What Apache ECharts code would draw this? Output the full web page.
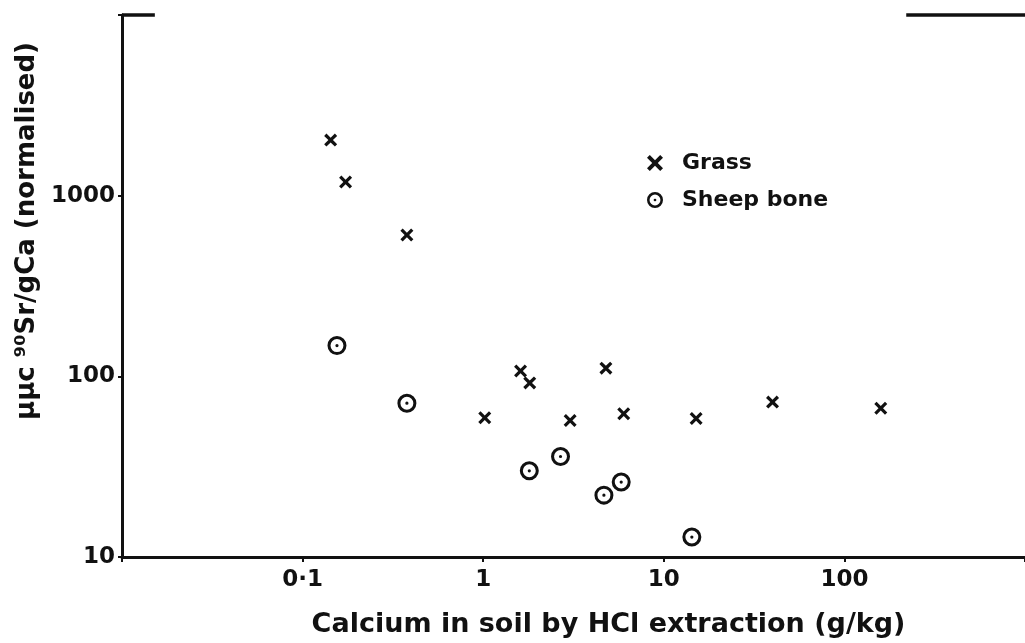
<!DOCTYPE html>
<html>
<head>
<meta charset="utf-8">
<script src="https://cdn.jsdelivr.net/npm/echarts@6/dist/echarts.min.js"></script>
<style>
  html, body { margin: 0; padding: 0; background: #fff; }
  #chart { width: 1025px; height: 643px; }
</style>
</head>
<body>
<div id="chart"></div>
<script>
// values (log-log)
const grassX = [0.143, 0.173, 0.378, 1.61, 1.81, 4.78, 1.02, 3.03, 6.0, 15.1, 40, 159];
const grassY = [2030, 1190, 605, 107, 92, 111, 59, 57, 62, 58.5, 72, 66.5];
const boneX = [0.155, 0.378, 1.80, 2.68, 4.66, 5.81, 14.3];
const boneY = [148, 71, 30, 36, 22, 26, 12.9];

const xLabels = { 0.1: '0·1', 1: '1', 10: '10', 100: '100' };
const yLabels = { 10: '10', 100: '100', 1000: '1000' };

// frame stubs along the top edge (data coords)
const topStubs = [[0.01, 0.0152], [220, 1000]];

const INK = '#111';
const FONT = 'DejaVu Sans';

const crossPath = 'path://M3.5 0 L10 6.5 L16.5 0 L20 3.5 L13.5 10 L20 16.5 L16.5 20 L10 13.5 L3.5 20 L0 16.5 L6.5 10 L0 3.5 Z';
const ringPath = 'path://M10 0 A10 10 0 1 1 10 20 A10 10 0 1 1 10 0 Z M10 3.2 A6.8 6.8 0 1 0 10 16.8 A6.8 6.8 0 1 0 10 3.2 Z M10 8.3 A1.7 1.7 0 1 1 10 11.7 A1.7 1.7 0 1 1 10 8.3 Z';

function pairs(xs, ys) {
    return xs.map((x, i) => [x, ys[i]]);
}

function labelFor(map, v) {
    const key = Object.keys(map).find(k => Math.abs(Math.log10(+k) - Math.log10(v)) < 0.01);
    return key ? map[key] : '';
}

const chart = echarts.init(document.getElementById('chart'));

chart.setOption({
    backgroundColor: '#fff',
    animation: false,
    textStyle: { fontFamily: FONT, color: INK },
    grid: { left: 122, right: 0, top: 15, bottom: 86, outerBoundsMode: 'none' },
    legend: {
        orient: 'vertical',
        left: 642,
        top: 147,
        itemWidth: 16,
        itemHeight: 16,
        itemGap: 15,
        inactiveColor: INK,
        itemStyle: { opacity: 1 },
        textStyle: { fontFamily: FONT, fontWeight: 'bold', fontSize: 22, color: INK, padding: [0, 0, 0, 14] },
        data: [
            { name: 'Grass', icon: crossPath },
            { name: 'Sheep bone', icon: ringPath }
        ]
    },
    xAxis: {
        type: 'log',
        logBase: 10,
        min: 0.01,
        max: 1000,
        name: 'Calcium in soil by HCl extraction (g/kg)',
        nameLocation: 'middle',
        nameGap: 54,
        nameTextStyle: { fontFamily: FONT, fontWeight: 'bold', fontSize: 27, color: INK, padding: [0, 0, 0, 70] },
        axisLine: { lineStyle: { color: INK, width: 3 } },
        axisTick: { inside: false, length: 5, lineStyle: { color: INK, width: 2 } },
        axisLabel: {
            margin: 12,
            fontSize: 23,
            fontWeight: 'bold',
            color: INK,
            formatter: v => labelFor(xLabels, v)
        },
        splitLine: { show: false },
        minorTick: { show: false }
    },
    yAxis: {
        type: 'log',
        logBase: 10,
        min: 10,
        max: 10000,
        name: 'μμc ⁹⁰Sr/gCa (normalised)',
        nameLocation: 'middle',
        nameGap: 81,
        nameRotate: 90,
        nameTextStyle: { fontFamily: FONT, fontWeight: 'bold', fontSize: 26, color: INK, padding: [0, 0, 0, 110] },
        axisLine: { lineStyle: { color: INK, width: 3 } },
        axisTick: { length: 4, lineStyle: { color: INK, width: 2 } },
        axisLabel: {
            margin: 7,
            fontSize: 23,
            fontWeight: 'bold',
            color: INK,
            formatter: v => labelFor(yLabels, v)
        },
        splitLine: { show: false }
    },
    series: [
        {
            name: 'Grass',
            type: 'scatter',
            symbol: crossPath,
            symbolSize: 13,
            itemStyle: { color: INK, opacity: 1 },
            data: pairs(grassX, grassY)
        },
        {
            name: 'Sheep bone',
            type: 'scatter',
            symbol: ringPath,
            symbolSize: 19,
            itemStyle: { color: INK, opacity: 1 },
            data: pairs(boneX, boneY)
        }
    ]
});

// top frame stubs, placed through the axis scales
const stubs = topStubs.map(([a, b]) => {
    const p1 = chart.convertToPixel({ gridIndex: 0 }, [a, 10000]);
    const p2 = chart.convertToPixel({ gridIndex: 0 }, [b, 10000]);
    return {
        type: 'line',
        shape: { x1: p1[0], y1: p1[1], x2: p2[0], y2: p2[1] },
        style: { stroke: INK, lineWidth: 3.5 }
    };
});
chart.setOption({ graphic: stubs });
</script>
</body>
</html>
